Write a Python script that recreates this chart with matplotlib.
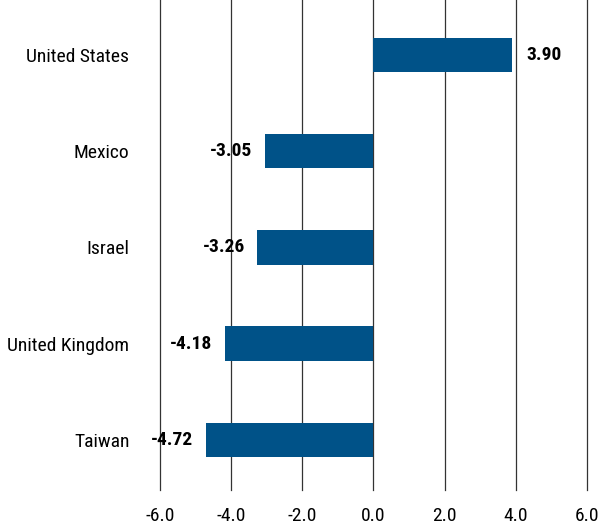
import matplotlib
matplotlib.use("Agg")
from matplotlib import pyplot as plt
from matplotlib import font_manager

countries = ["United States", "Mexico", "Israel", "United Kingdom", "Taiwan"]
values = [3.90, -3.05, -3.26, -4.18, -4.72]
xticks = [-6.0, -4.0, -2.0, 0.0, 2.0, 4.0, 6.0]

names = {f.name for f in font_manager.fontManager.ttflist}
family = ["Liberation Sans Narrow", "Roboto Condensed", "Open Sans Condensed",
          "Liberation Sans", "DejaVu Sans"]
family = [f for f in family if f in names] or ["DejaVu Sans"]
plt.rcParams["font.family"] = family

fig = plt.figure(figsize=(6.0, 5.29), dpi=100)
ax = fig.add_axes([0.2667, 0.0737, 0.7113, 0.9263])

ypos = list(range(len(countries)))[::-1]
ax.barh(ypos, values, height=0.36, color="#005288", zorder=3)

for y, v in zip(ypos, values):
    if v >= 0:
        ax.annotate(f"{v:.2f}", (v, y), xytext=(10.5, 0), textcoords="offset points",
                    ha="left", va="center", fontsize=14, fontweight="bold")
    else:
        ax.annotate(f"{v:.2f}", (v, y), xytext=(-9, 0), textcoords="offset points",
                    ha="right", va="center", fontsize=14, fontweight="bold")

ax.set_xlim(-6.0, 6.0)
ax.set_ylim(-0.52, 4.57)
ax.set_xticks(xticks)
ax.set_xticklabels([f"{t:.1f}" for t in xticks], fontsize=14)
ax.set_yticks(ypos)
ax.set_yticklabels(countries, fontsize=14)
ax.tick_params(axis="both", length=0)
ax.tick_params(axis="y", pad=22)
ax.tick_params(axis="x", pad=12)

for t in xticks:
    ax.axvline(t, color="#333333", linewidth=0.9, zorder=1, clip_on=False)
for s in ax.spines.values():
    s.set_visible(False)

plt.savefig("out.png", dpi=100)
